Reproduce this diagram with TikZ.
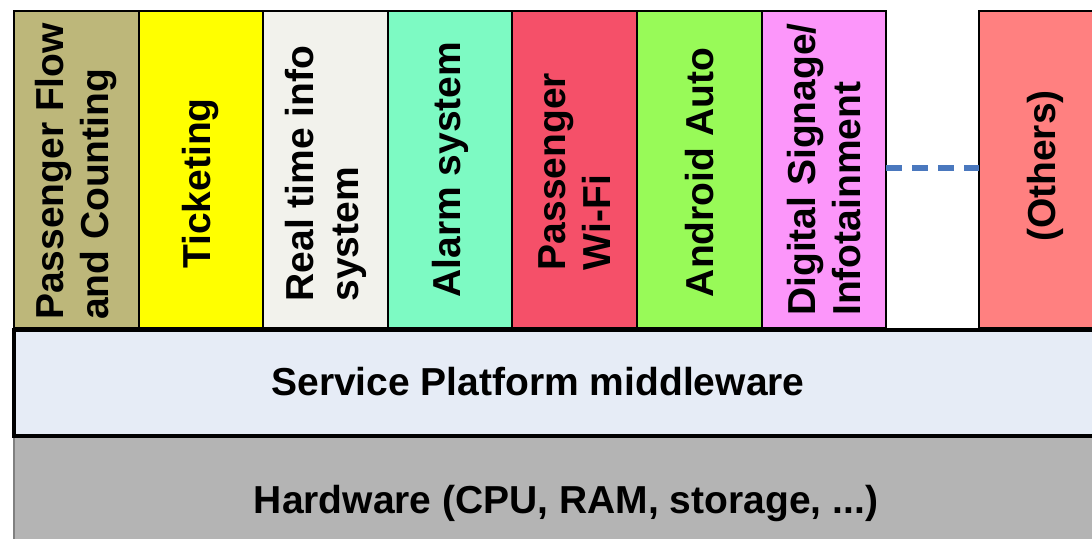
\documentclass[tikz,border=0pt]{standalone}
\usepackage{fontspec}
\setmainfont{Liberation Sans}
\usetikzlibrary{positioning}
\definecolor{flowcol}{RGB}{189,183,122}
\definecolor{ticketcol}{RGB}{255,255,0}
\definecolor{rtcol}{RGB}{242,242,236}
\definecolor{alarmcol}{RGB}{125,250,195}
\definecolor{wificol}{RGB}{245,80,105}
\definecolor{androidcol}{RGB}{152,250,88}
\definecolor{signcol}{RGB}{252,150,250}
\definecolor{otherscol}{RGB}{255,128,128}
\definecolor{mwcol}{RGB}{230,236,246}
\definecolor{hwcol}{RGB}{180,180,180}
\definecolor{dashcol}{RGB}{74,120,190}

\begin{document}
\begin{tikzpicture}[
      x=0.5pt,y=-0.5pt,
      app/.style={rectangle,draw=black,line width=1pt,outer sep=0pt,inner sep=0pt,
        minimum width=62.3pt,minimum height=158.5pt},
      applabel/.style={rotate=90,align=left,inner sep=0pt,
        font=\fontsize{19.5}{22.5}\selectfont\bfseries},
      layerlabel/.style={inner sep=0pt,font=\fontsize{19.5}{22.5}\selectfont\bfseries},
      more/.style={draw=dashcol,line width=2.8pt,dash pattern=on 8pt off 5pt}
      ]
      \useasboundingbox (0,0) rectangle (1092,538);
      \clip (0,0) rectangle (1092,538);
      % hardware and middleware layers
      \node[rectangle,fill=hwcol,draw=black!50,line width=0.6pt,outer sep=0pt,anchor=north west,
        minimum width=560pt,minimum height=60pt] (hw) at (14,437) {};
      \node[rectangle,fill=mwcol,draw=black,line width=2.2pt,outer sep=0pt,anchor=north west,
        minimum width=560pt,minimum height=53pt] (mw) at (14,330) {};
      \node[layerlabel] (mwtxt) at (538,382) {Service Platform middleware};
      \node[layerlabel] (hwtxt) at (566,503) {Hardware (CPU, RAM, storage, ...)};
      % application columns
      \node[app,fill=flowcol,anchor=north west] (flow) at (14,11) {};
      \node[app,fill=ticketcol,right=0pt of flow] (ticket) {};
      \node[app,fill=rtcol,right=0pt of ticket] (realtime) {};
      \node[app,fill=alarmcol,right=0pt of realtime] (alarm) {};
      \node[app,fill=wificol,right=0pt of alarm] (wifi) {};
      \node[app,fill=androidcol,right=0pt of wifi] (android) {};
      \node[app,fill=signcol,right=0pt of android] (signage) {};
      \node[app,fill=otherscol,anchor=north west,minimum width=70pt] (others) at (979,11) {};
      \node[applabel] (flowtxt) at ([yshift=-1pt]flow.center) {Passenger Flow\\and Counting};
      \node[applabel] (tickettxt) at ([yshift=-7pt]ticket.center) {Ticketing};
      \node[applabel] (realtimetxt) at ([yshift=-2pt]realtime.center) {Real time info\\system};
      \node[applabel] (alarmtxt) at (alarm.center) {Alarm system};
      \node[applabel] (wifitxt) at ([yshift=-1pt]wifi.center) {Passenger\\Wi-Fi};
      \node[applabel] (androidtxt) at ([yshift=-1.5pt]android.center) {Android Auto};
      \node[applabel] (signagetxt) at (signage.center) {Digital Signage/\\Infotainment};
      \node[applabel] (otherstxt) at (1045,166) {(Others)};
      \draw[more] ([yshift=0.75pt]signage.east) -- ([yshift=0.75pt]others.west);
    \end{tikzpicture}
\end{document}
